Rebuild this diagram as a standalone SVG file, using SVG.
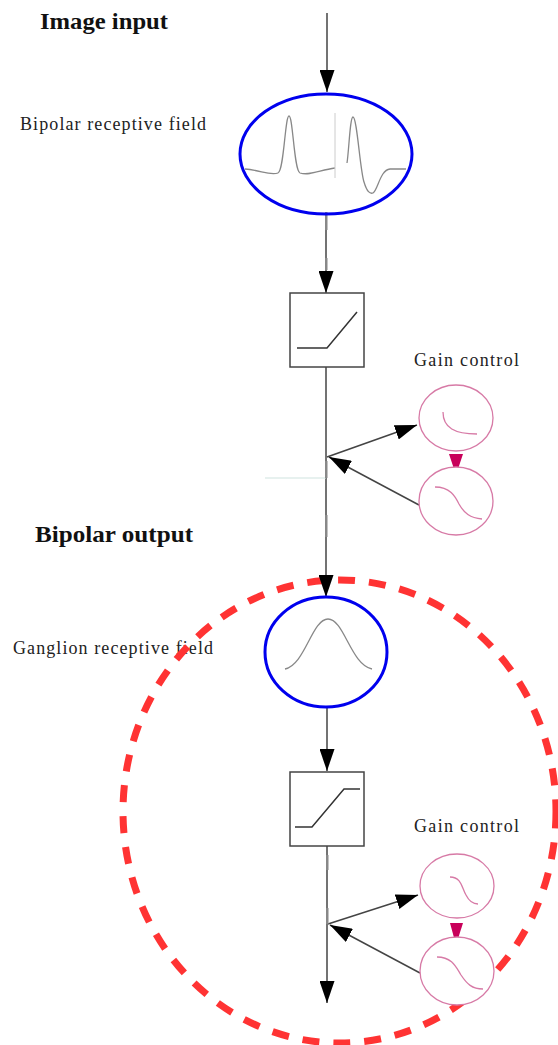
<svg xmlns="http://www.w3.org/2000/svg" width="558" height="1045" viewBox="0 0 558 1045">
<style>
.title{font-family:"Liberation Serif","Times New Roman",serif;font-weight:bold;font-size:23px;fill:#111}
.lbl{font-family:"Liberation Serif","Times New Roman",serif;font-size:18px;fill:#222}
.rf{fill:none;stroke:#0000ee;stroke-width:3}
.curve{fill:none;stroke:#888;stroke-width:1.3}
.box{fill:#fff;stroke:#444;stroke-width:1.5}
.nl{fill:none;stroke:#333;stroke-width:1.5}
.gc{fill:#fff;stroke:#d77aa6;stroke-width:1.3}
.gcc{fill:none;stroke:#d77aa6;stroke-width:1.3}
.con{fill:none;stroke:#444;stroke-width:1.5}
.tick{fill:#888}
.tri{fill:#c8005a}
</style>
<defs>
<marker id="ah" markerUnits="userSpaceOnUse" markerWidth="22" markerHeight="15" refX="22" refY="7.5" orient="auto">
<path d="M0,0 L22,7.5 L0,15 z" fill="#000"/>
</marker>
</defs>
<rect width="558" height="1045" fill="#fff"/>

<g id="labels">
<text class="title" x="40" y="29" textLength="128" lengthAdjust="spacingAndGlyphs">Image input</text>
<text class="lbl" x="20" y="130" textLength="186">Bipolar receptive field</text>
<text class="title" x="35" y="542" textLength="158" lengthAdjust="spacingAndGlyphs">Bipolar output</text>
<text class="lbl" x="13" y="654" textLength="200">Ganglion receptive field</text>
</g>

<g id="ganglion-stage">
<ellipse cx="339.5" cy="811.5" rx="216.5" ry="231.5" fill="none" stroke="#ff3333" stroke-width="7" stroke-dasharray="17,14"/>
</g>

<g id="connectors">
<path class="con" d="M327,13 L327,92" marker-end="url(#ah)"/>
<path class="con" d="M326,214 L326,293" marker-end="url(#ah)"/>
<path class="con" d="M326,367 L326,597" marker-end="url(#ah)"/>
<path class="con" d="M327,708 L327,771" marker-end="url(#ah)"/>
<path class="con" d="M327,845 L327,1003" marker-end="url(#ah)"/>
<path class="con" d="M327,457 L417,425" marker-end="url(#ah)"/>
<path class="con" d="M419,505 L329,457" marker-end="url(#ah)"/>
<path class="con" d="M328,924 L418,895" marker-end="url(#ah)"/>
<path class="con" d="M420,973 L330,925" marker-end="url(#ah)"/>
<path d="M265,478 L326,478" stroke="#cfe3df" stroke-width="1" fill="none"/>
<rect class="tick" x="325" y="212" width="2.5" height="18"/>
<rect class="tick" x="325" y="258" width="2.5" height="12"/>
<rect class="tick" x="325" y="461" width="2.5" height="17"/>
<rect class="tick" x="325" y="515" width="2.5" height="22"/>
<rect class="tick" x="326" y="855" width="2.5" height="15"/>
<rect class="tick" x="326" y="908" width="2.5" height="16"/>
<polygon class="tri" points="449,454 463,454 456,475"/>
<polygon class="tri" points="450,923 463,923 456,945"/>
</g>

<g id="bipolar-rf">
<ellipse class="rf" cx="326" cy="154" rx="86" ry="60"/>
<path class="curve" d="M245,169 C260,170 270,176 278,173 C284,171 285,116 289,116 C293,116 294,171 300,173 C310,176 320,170 335,168"/>
<path d="M335,113 L335,178" stroke="#ccc" stroke-width="1"/>
<path class="curve" stroke="#555" d="M347,163 C349,150 350,117 353,117 C357,117 360,170 364,182 C367,192 370,194 373,193 C378,190 380,170 390,169 L406,169"/>
</g>

<g id="bipolar-nl">
<rect class="box" x="290" y="293" width="74" height="74"/>
<path class="nl" d="M297,348 L327,348 L357,312"/>
</g>

<g id="gain1">
<text class="lbl" x="414" y="366" textLength="105">Gain control</text>
<ellipse class="gc" cx="456" cy="418" rx="37" ry="33"/>
<path class="gcc" d="M443,412 C443,428 455,434 477,434"/>
<ellipse class="gc" cx="456" cy="501" rx="37" ry="34"/>
<path class="gcc" d="M435,487 C450,487 455,496 459,504 C464,513 470,518 482,519"/>
</g>

<g id="ganglion-rf">
<ellipse class="rf" cx="326" cy="652" rx="61" ry="55"/>
<path class="curve" d="M285,669 C305,665 312,619 328,619 C344,619 351,665 372,669"/>
</g>

<g id="ganglion-nl">
<rect class="box" x="290" y="772" width="74" height="74"/>
<path class="nl" d="M295,827 L312,827 L344,789 L360,789"/>
</g>

<g id="gain2">
<text class="lbl" x="414" y="832" textLength="105">Gain control</text>
<ellipse class="gc" cx="457" cy="886" rx="37" ry="32"/>
<path class="gcc" d="M450,877 C462,877 462,889 466,895 C469,901 472,904 478,904"/>
<ellipse class="gc" cx="457" cy="971" rx="37" ry="34"/>
<path class="gcc" d="M437,957 C452,957 456,967 461,975 C467,984 472,989 483,989"/>
</g>
</svg>
